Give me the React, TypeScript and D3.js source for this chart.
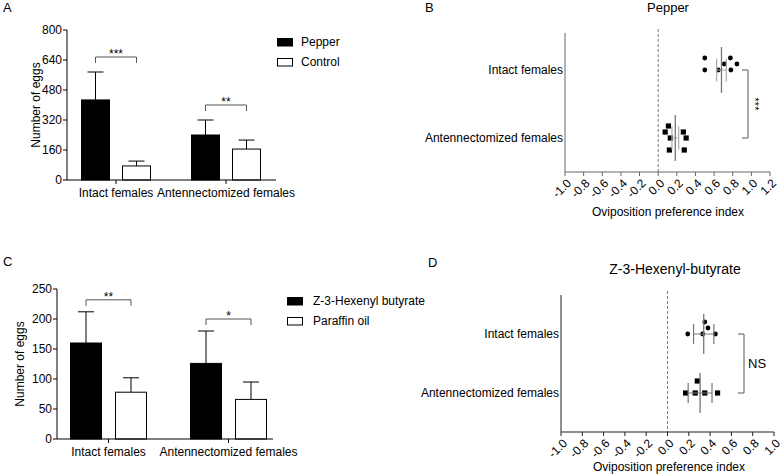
import * as d3 from "d3";

// ---- data ----
const groups = ["Intact females", "Antennectomized females"];

// panel A: Pepper vs Control (mean, upper error)
const pepperSeries = ["Pepper", "Control"];
const pepperMean = [427, 240];
const pepperErr = [149, 80];
const controlMean = [75, 165];
const controlErr = [26, 48];
const pepperSig = ["***", "**"];
const eggTicksA = [0, 160, 320, 480, 640, 800];

// panel C: Z-3-Hexenyl butyrate vs Paraffin oil
const hexSeries = ["Z-3-Hexenyl butyrate", "Paraffin oil"];
const hexMean = [160, 126];
const hexErr = [52, 54];
const paraffinMean = [78, 66];
const paraffinErr = [24, 29];
const hexSig = ["**", "*"];
const eggTicksC = [0, 50, 100, 150, 200, 250];

// panel B: preference index, pepper (mean ± SEM)
const pepperIntactIdx = [0.5, 0.5, 0.645, 0.71, 0.78, 0.775, 0.845];
const pepperAntIdx = [0.13, 0.11, 0.075, 0.12, 0.3, 0.27, 0.28];
const idxTicksB = [-1, -0.8, -0.6, -0.4, -0.2, 0, 0.2, 0.4, 0.6, 0.8, 1.0, 1.2];
const idxLabelsB = ["-1.0", "-0.8", "-0.6", "-0.4", "-0.2", "0.0", "0.2", "0.4", "0.6", "0.8", "1.0", "1.2"];

// panel D: preference index, Z-3-hexenyl-butyrate (mean ± SD)
const hexIntactIdx = [0.19, 0.33, 0.38, 0.35, 0.45];
const hexAntIdx = [0.17, 0.26, 0.28, 0.35, 0.47];
const idxTicksD = [-1, -0.8, -0.6, -0.4, -0.2, 0, 0.2, 0.4, 0.6, 0.8, 1.0];
const idxLabelsD = ["-1.0", "-0.8", "-0.6", "-0.4", "-0.2", "0.0", "0.2", "0.4", "0.6", "0.8", "1.0"];

const FONT = "Arial, 'Liberation Sans', Helvetica, sans-serif";

type BarProps = {
  axisX: number;
  axisEnd: number;
  yRange: [number, number];
  yMax: number;
  ticks: number[];
  bandRange: [number, number];
  groupW: number;
  barW: number;
  means: number[][];
  errs: number[][];
  sig: string[];
  sigGap: number;
  labelY: number;
  yLabelX: number;
};

function BarPanel(p: BarProps) {
  const y = d3.scaleLinear().domain([0, p.yMax]).range(p.yRange);
  const x = d3.scaleBand().domain(groups).range(p.bandRange);
  // two bars per group, inner gap chosen so each bar is barW wide
  const sub = d3
    .scaleBand<number>()
    .domain([0, 1])
    .range([0, p.groupW])
    .paddingInner(2 - p.groupW / (p.groupW - p.barW));
  const barX = (g: string, s: number) =>
    (x(g) ?? 0) + x.bandwidth() / 2 - p.groupW / 2 + (sub(s) ?? 0);
  const bw = sub.bandwidth();
  const y0 = y(0);
  return (
    <g fontFamily={FONT}>
      {groups.map((g, gi) =>
        [0, 1].map((s) => {
          const m = p.means[s][gi];
          const e = p.errs[s][gi];
          const bx = barX(g, s);
          const cx = bx + bw / 2;
          return (
            <g key={g + s}>
              <line x1={cx} x2={cx} y1={y(m)} y2={y(m + e)} stroke="#000" strokeWidth={1} />
              <line x1={cx - 8} x2={cx + 8} y1={y(m + e)} y2={y(m + e)} stroke="#000" strokeWidth={1} />
              <rect
                x={bx}
                y={y(m)}
                width={bw}
                height={y0 - y(m)}
                fill={s === 0 ? "#000" : "#fff"}
                stroke="#000"
                strokeWidth={1}
              />
            </g>
          );
        })
      )}
      {groups.map((g, gi) => {
        const top = Math.max(p.means[0][gi] + p.errs[0][gi], p.means[1][gi] + p.errs[1][gi]);
        const by = y(top) - p.sigGap;
        const xa = barX(g, 0) + bw / 2;
        const xb = barX(g, 1) + bw / 2;
        return (
          <g key={"sig" + g}>
            <path d={`M${xa},${by + 6}V${by}H${xb}V${by + 6}`} fill="none" stroke="#555" strokeWidth={1} />
            <text x={(xa + xb) / 2} y={by + 1} textAnchor="middle" fontSize={12}>
              {p.sig[gi]}
            </text>
          </g>
        );
      })}
      <line x1={p.axisX} x2={p.axisX} y1={y(p.yMax)} y2={y0} stroke="#000" />
      {p.ticks.map((t) => (
        <g key={t}>
          <line x1={p.axisX - 4} x2={p.axisX} y1={y(t)} y2={y(t)} stroke="#000" />
          <text x={p.axisX - 5} y={y(t)} dy="0.35em" textAnchor="end" fontSize={12}>
            {t}
          </text>
        </g>
      ))}
      <line x1={p.axisX} x2={p.axisEnd} y1={y0} y2={y0} stroke="#000" />
      {groups.map((g) => {
        const cx = (x(g) ?? 0) + x.bandwidth() / 2;
        return (
          <g key={"xl" + g}>
            <line x1={cx} x2={cx} y1={y0} y2={y0 + 4} stroke="#000" />
            <text x={cx} y={p.labelY} textAnchor="middle" fontSize={12}>
              {g}
            </text>
          </g>
        );
      })}
      <text
        transform={`translate(${p.yLabelX},${(p.yRange[0] + p.yRange[1]) / 2}) rotate(-90)`}
        textAnchor="middle"
        fontSize={12}
      >
        Number of eggs
      </text>
    </g>
  );
}

// simple beeswarm so overlapping points are nudged up/down
function swarm(vals: number[], px: (v: number) => number, d: number, step: number) {
  const placed: { x: number; o: number }[] = [];
  return vals.map((v) => {
    const xx = px(v);
    const cands = [0, -step, step, -2 * step, 2 * step];
    const o = cands.find((c) => placed.every((q) => Math.hypot(q.x - xx, q.o - c) >= d)) ?? 0;
    placed.push({ x: xx, o });
    return { x: xx, o };
  });
}

type DotProps = {
  domain: [number, number];
  xRange: [number, number];
  ticks: number[];
  labels: string[];
  axisY: number;
  topY: number;
  rows: [number, number];
  series: number[][];
  useSem: boolean;
  meanHalf: number;
  capHalf: number;
  axisColor: string;
  barColor: string;
  capColor: string;
  bracketX: number;
  sig: string;
  sigRotate: boolean;
  sigPos: [number, number];
  xLabelX: number;
  xLabelY: number;
};

function DotPanel(p: DotProps) {
  const x = d3.scaleLinear().domain(p.domain).range(p.xRange);
  const row = d3.scalePoint().domain(groups).range(p.rows);
  const x0 = p.xRange[0];
  return (
    <g fontFamily={FONT}>
      <line x1={x(0)} x2={x(0)} y1={p.topY - 4} y2={p.axisY} stroke="#777" strokeDasharray="3,2" />
      {groups.map((g, gi) => {
        const vals = p.series[gi];
        const ry = row(g) ?? 0;
        const m = d3.mean(vals) ?? 0;
        const sd = d3.deviation(vals) ?? 0;
        const e = p.useSem ? sd / Math.sqrt(vals.length) : sd;
        const pts = swarm(vals, x, 6.5, 6);
        return (
          <g key={g}>
            {pts.map((q, i) =>
              gi === 0 ? (
                <circle key={i} cx={q.x} cy={ry + q.o} r={2.4} fill="#000" />
              ) : (
                <rect key={i} x={q.x - 2.6} y={ry + q.o - 2.6} width={5.2} height={5.2} fill="#000" />
              )
            )}
            <line x1={x(m - e)} x2={x(m + e)} y1={ry} y2={ry} stroke={p.capColor} />
            <line x1={x(m - e)} x2={x(m - e)} y1={ry - p.capHalf} y2={ry + p.capHalf} stroke={p.capColor} strokeWidth={1.2} />
            <line x1={x(m + e)} x2={x(m + e)} y1={ry - p.capHalf} y2={ry + p.capHalf} stroke={p.capColor} strokeWidth={1.2} />
            <line x1={x(m)} x2={x(m)} y1={ry - p.meanHalf} y2={ry + p.meanHalf} stroke={p.barColor} strokeWidth={1.3} />
            <text x={x0 - 2} y={ry} dy="0.35em" textAnchor="end" fontSize={12}>
              {g}
            </text>
          </g>
        );
      })}
      <path
        d={`M${p.bracketX - 6},${p.rows[0]}H${p.bracketX}V${p.rows[1]}H${p.bracketX - 6}`}
        fill="none"
        stroke="#555"
      />
      {p.sigRotate ? (
        <text transform={`translate(${p.sigPos[0]},${p.sigPos[1]}) rotate(90)`} textAnchor="middle" fontSize={11}>
          {p.sig}
        </text>
      ) : (
        <text x={p.sigPos[0]} y={p.sigPos[1]} dy="0.35em" fontSize={13}>
          {p.sig}
        </text>
      )}
      <line x1={x0} x2={x0} y1={p.topY} y2={p.axisY} stroke={p.axisColor} />
      <line x1={x0} x2={p.xRange[1]} y1={p.axisY} y2={p.axisY} stroke={p.axisColor} />
      {p.ticks.map((t, i) => (
        <g key={t}>
          <line x1={x(t)} x2={x(t)} y1={p.axisY} y2={p.axisY + 4} stroke={p.axisColor} />
          <text
            transform={`translate(${x(t) + 1},${p.axisY + 6}) rotate(-45)`}
            textAnchor="end"
            dy="0.7em"
            fontSize={12}
          >
            {p.labels[i]}
          </text>
        </g>
      ))}
      <text x={p.xLabelX} y={p.xLabelY} textAnchor="middle" fontSize={12}>
        Oviposition preference index
      </text>
    </g>
  );
}

export default function App() {
  return (
    <svg
      width={784}
      height={476}
      style={{ position: "absolute", left: 0, top: 0, background: "#fff" }}
      fontFamily={FONT}
    >
      <rect width={784} height={476} fill="#fff" />
      <text x={3} y={12} fontSize={13}>A</text>
      <text x={425} y={12} fontSize={13}>B</text>
      <text x={3} y={266} fontSize={13}>C</text>
      <text x={428} y={267} fontSize={13}>D</text>

      {/* A */}
      <BarPanel
        axisX={67}
        axisEnd={276}
        yRange={[180, 30]}
        yMax={800}
        ticks={eggTicksA}
        bandRange={[61, 281]}
        groupW={69}
        barW={28}
        means={[pepperMean, controlMean]}
        errs={[pepperErr, controlErr]}
        sig={pepperSig}
        sigGap={15}
        labelY={197}
        yLabelX={40}
      />
      {pepperSeries.map((s, i) => (
        <g key={s}>
          <rect x={277.5} y={38.5 + i * 20} width={15} height={7.5} fill={i === 0 ? "#000" : "#fff"} stroke="#000" />
          <text x={301} y={42 + i * 20} dy="0.35em" fontSize={12}>{s}</text>
        </g>
      ))}

      {/* B */}
      <text x={668} y={12} textAnchor="middle" fontSize={13}>Pepper</text>
      <DotPanel
        domain={[-1, 1.2]}
        xRange={[565, 770]}
        ticks={idxTicksB}
        labels={idxLabelsB}
        axisY={172}
        topY={33}
        rows={[70, 138]}
        series={[pepperIntactIdx, pepperAntIdx]}
        useSem={true}
        meanHalf={23}
        capHalf={11.5}
        axisColor="#666"
        barColor="#777"
        capColor="#aaa"
        bracketX={748}
        sig="***"
        sigRotate={true}
        sigPos={[751, 104]}
        xLabelX={668}
        xLabelY={216}
      />

      {/* C */}
      <BarPanel
        axisX={57}
        axisEnd={273}
        yRange={[439, 289]}
        yMax={250}
        ticks={eggTicksC}
        bandRange={[48.5, 288.5]}
        groupW={76}
        barW={31}
        means={[hexMean, paraffinMean]}
        errs={[hexErr, paraffinErr]}
        sig={hexSig}
        sigGap={12}
        labelY={456}
        yLabelX={24}
      />
      {hexSeries.map((s, i) => (
        <g key={s}>
          <rect x={287.5} y={297.5 + i * 20} width={15} height={7.5} fill={i === 0 ? "#000" : "#fff"} stroke="#000" />
          <text x={313} y={301 + i * 20} dy="0.35em" fontSize={12}>{s}</text>
        </g>
      ))}

      {/* D */}
      <text x={675} y={274} textAnchor="middle" fontSize={14}>Z-3-Hexenyl-butyrate</text>
      <DotPanel
        domain={[-1, 1]}
        xRange={[561, 774]}
        ticks={idxTicksD}
        labels={idxLabelsD}
        axisY={432}
        topY={295}
        rows={[334, 393]}
        series={[hexIntactIdx, hexAntIdx]}
        useSem={false}
        meanHalf={20}
        capHalf={10}
        axisColor="#222"
        barColor="#777"
        capColor="#777"
        bracketX={744}
        sig="NS"
        sigRotate={false}
        sigPos={[748, 363]}
        xLabelX={669}
        xLabelY={471}
      />
    </svg>
  );
}
